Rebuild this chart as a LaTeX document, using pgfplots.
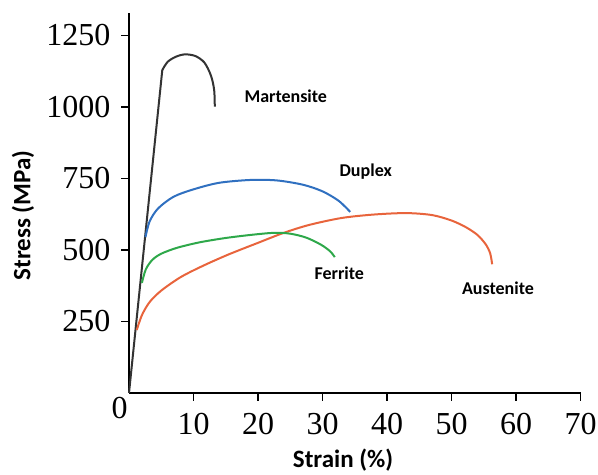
\documentclass[border=0pt]{standalone}
\usepackage{fontspec}
\setmainfont{Liberation Serif}
\newfontfamily\lblfont{Carlito}
\usepackage{pgfplots}
\pgfplotsset{compat=1.18}
\definecolor{cMart}{HTML}{333333}
\definecolor{cDup}{HTML}{3070C0}
\definecolor{cAus}{HTML}{E8643C}
\definecolor{cFer}{HTML}{2EA84A}
\begin{document}
\begin{tikzpicture}[x=1bp,y=1bp]
\useasboundingbox (0,0) rectangle (598,475);
\begin{axis}[
  at={(129bp,82bp)}, anchor=south west,
  scale only axis, width=451.5bp, height=380.4bp,
  xmin=0, xmax=70, ymin=0, ymax=1330,
  axis x line=bottom, axis y line=left,
  axis line style={-, line width=2.4bp, black},
  tick align=outside, major tick length=8bp,
  tick style={line width=1.2bp, black},
  xtick={10,20,...,70}, ytick={250,500,...,1250},
  /pgf/number format/assume math mode=true,
  /pgf/number format/1000 sep={},
  ticklabel style={font=\fontsize{32bp}{32bp}\selectfont},
  xticklabel style={yshift=-9bp},
  yticklabel style={xshift=-7bp},
  xlabel={Strain (\%)}, ylabel={Stress (MPa)},
  xlabel style={at={(axis description cs:0.474,0)}, anchor=center, yshift=-67bp,
    font=\lblfont\bfseries\fontsize{25bp}{25bp}\selectfont},
  ylabel style={at={(axis description cs:-0.235,0.4666)}, anchor=center,
    font=\lblfont\bfseries\fontsize{25bp}{25bp}\selectfont},
  clip=false,
  every axis plot/.append style={line width=2bp, no marks},
]
% Martensite
\addplot[cMart] coordinates {(0,0) (5.16,1129)};
\addplot[cMart, smooth] coordinates {(5.16,1129) (6.0,1158) (7.3,1176) (8.7,1184) (10.3,1178) (11.7,1155) (12.7,1110) (13.2,1060) (13.3,1001)};
% Duplex
\addplot[cDup, smooth] coordinates {(2.55,545) (3.2,600) (4.5,645) (6.9,686) (10,712) (14,735) (19,745) (23,743) (27,728) (30,705) (32.5,672) (34.3,633)};
% Austenite
\addplot[cAus, smooth] coordinates {(1.2,220) (2.0,272) (3.2,318) (5,358) (8,405) (11.5,445) (15.5,485) (20,525) (24,560) (28,588) (33,612) (38,624) (43,629) (47,622) (50,603) (52.2,580) (54,553) (55.3,520) (56.0,488) (56.3,450)};
% Ferrite
\addplot[cFer, smooth] coordinates {(2.0,385) (2.6,432) (3.6,465) (5,487) (7.5,508) (11,527) (15,542) (19,553) (22.5,560) (25,557) (27.5,543) (29.8,518) (31.2,495) (31.9,475)};
\node[font=\fontsize{32bp}{32bp}\selectfont] at (axis cs:-1.47,-52) {0};
\node[font=\lblfont\bfseries\fontsize{18bp}{18bp}\selectfont] at (axis cs:24.3,1038) {Martensite};
\node[font=\lblfont\bfseries\fontsize{18bp}{18bp}\selectfont] at (axis cs:36.7,773) {Duplex};
\node[font=\lblfont\bfseries\fontsize{18bp}{18bp}\selectfont] at (axis cs:32.6,420) {Ferrite};
\node[font=\lblfont\bfseries\fontsize{18bp}{18bp}\selectfont] at (axis cs:57.2,367) {Austenite};
\end{axis}
\end{tikzpicture}
\end{document}
